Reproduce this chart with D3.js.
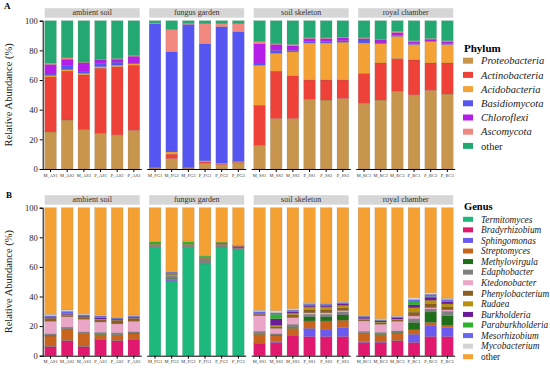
<!DOCTYPE html>
<html>
<head>
<meta charset="utf-8">
<script src="https://cdn.jsdelivr.net/npm/d3@7"></script>
<style>
  body { margin: 0; background: #fff; }
  svg text { font-family: "Liberation Serif", "DejaVu Serif", serif; }
</style>
</head>
<body>
<svg id="chart" width="550" height="371"></svg>
<script>
// facets and samples
const habitats = ["ambient soil", "fungus garden", "soil skeleton", "royal chamber"];
const samples = [
  ["M_AS1", "M_AS2", "M_AS3", "P_AS1", "P_AS2", "P_AS3"],
  ["M_FG1", "M_FG2", "M_FG3", "P_FG1", "P_FG2", "P_FG3"],
  ["M_SS1", "M_SS2", "M_SS3", "P_SS1", "P_SS2", "P_SS3"],
  ["M_RC1", "M_RC2", "M_RC3", "P_RC1", "P_RC2", "P_RC3"]
];
const yTicks = [0, 20, 40, 60, 80, 100];

// panel A: phylum, % per sample (AS x6, FG x6, SS x6, RC x6)
const phyla = ["Proteobacteria", "Actinobacteria", "Acidobacteria", "Basidiomycota", "Chloroflexi", "Ascomycota", "other"];
const proteobacteria = [25, 33, 26.5, 24, 23, 26, 0.5, 7, 0.6, 4, 3, 4, 16, 34, 34, 47, 46.5, 47.5, 44.5, 46.5, 52.5, 50, 53, 50.5];
const actinobacteria = [37, 33, 37, 44, 46, 44, 0.3, 3, 0.2, 1, 0.5, 0.5, 27, 32, 29, 13, 13.5, 12.5, 20, 25, 22, 23.5, 18.5, 21];
const acidobacteria  = [1, 1, 1, 1, 1, 1, 0.2, 1.5, 0.2, 0.5, 0.5, 0.5, 27, 12, 16, 25, 25, 25.5, 20.5, 13, 15, 10.5, 14.5, 12.5];
const basidiomycota  = [1, 3, 1, 2, 2, 0.5, 97, 67.5, 96.5, 79, 92, 87.5, 1.5, 2, 1, 1, 1, 1, 2, 0.5, 0.5, 0.5, 0.3, 0.5];
const chloroflexi    = [6.5, 4, 6, 2.5, 2, 4.5, 0, 0, 0, 0, 0, 0, 13, 4, 3, 2, 2, 2, 1, 2, 2, 1.5, 1.2, 1.5];
const ascomycota     = [1, 1, 0.5, 0.5, 0.5, 0.5, 0.5, 15, 0.8, 13.5, 2, 5.5, 1.5, 0.5, 1, 0.5, 0.5, 0.5, 0.5, 0.5, 1, 0.5, 0.5, 0.5];
const otherPhylum    = [28.5, 25, 28, 26, 25.5, 23.5, 1.5, 6, 1.7, 2, 2, 2, 14, 15.5, 16, 11.5, 11.5, 11, 11.5, 12.5, 7, 13.5, 12, 13.5];
const phylumSeries = [proteobacteria, actinobacteria, acidobacteria, basidiomycota, chloroflexi, ascomycota, otherPhylum];
const phylumColors = ["#C8954D", "#EE4138", "#F4A236", "#5555F2", "#B41EE8", "#F08880", "#24A872"];

// panel B: genus
const genera = ["Termitomyces", "Bradyrhizobium", "Sphingomonas", "Streptomyces", "Methylovirgula", "Edaphobacter",
  "Ktedonobacter", "Phenylobacterium", "Rudaea", "Burkholderia", "Paraburkholderia", "Mesorhizobium", "Mycobacterium", "other"];
const termitomyces     = [0, 0, 0, 0, 0, 0, 73, 50.5, 73, 62, 73, 72.5, 0, 0, 0, 0, 0, 0, 0, 0, 0, 0, 0, 0];
const bradyrhizobium   = [6, 10, 6, 11, 10, 11, 0, 0.2, 0, 0, 0, 1.2, 8, 9, 13.5, 13, 13, 13, 9, 9, 10, 9, 13, 13];
const sphingomonas     = [0.3, 0.3, 0.3, 0.3, 0.3, 0.3, 0, 0.8, 0, 0, 0, 0.2, 0.5, 0.5, 0.5, 5.5, 4.5, 6, 0.5, 0.3, 0.3, 5.5, 7.5, 6];
const streptomyces     = [7, 7.5, 8.5, 3, 3.5, 3.5, 0, 0.3, 0, 0, 0, 0.3, 6, 4, 4.5, 5, 6, 5, 5.5, 5, 5, 3, 2, 1.5];
const methylovirgula   = [0.5, 0.3, 0.3, 0.5, 0.5, 0.5, 0.2, 0.5, 0.2, 0.3, 0.3, 0, 0.5, 0.5, 0.7, 3, 3, 3.5, 0.5, 0.5, 0.5, 5, 7, 6.5];
const edaphobacter     = [1, 1.2, 1, 1, 1.2, 1, 1.5, 2, 1.5, 3, 1.8, 0.3, 1.5, 1, 2, 1.5, 1.5, 2, 1, 1, 1, 2.5, 2, 3];
const ktedonobacter    = [8.5, 7, 8.5, 7, 6, 7, 0.2, 0.2, 0.2, 0.2, 0, 0, 10.5, 3.5, 4.5, 1, 1, 1, 7, 5.5, 6.5, 1.9, 1, 1];
const phenylobacterium = [1.5, 1, 1, 1.5, 2, 1.5, 0.2, 0.5, 0.2, 0.3, 1, 0, 0.5, 1, 2, 2, 2, 2, 1, 1, 1, 2.5, 2.5, 2];
const rudaea           = [0.5, 0.5, 0.4, 0.5, 0.5, 0.5, 0.3, 0.5, 0.3, 0.3, 0.5, 0, 0.5, 1, 1, 2, 2, 1.5, 0.5, 0.5, 0.5, 3, 2.5, 2];
const burkholderia     = [0.7, 0.5, 0.7, 0.7, 0.7, 0.7, 0, 0.2, 0, 0, 0, 0, 0.5, 4.5, 0.8, 1, 1, 1, 1, 0.8, 0.8, 2, 2, 1.5];
const paraburkholderia = [0.2, 0.2, 0.2, 0.3, 0.3, 0.3, 1.5, 0.3, 1.8, 1.2, 0.4, 0, 0.3, 3, 0.3, 0.5, 0.5, 0.5, 0.2, 0.2, 0.2, 2, 0.5, 0.5];
const mesorhizobium    = [0.8, 1.5, 0.8, 1, 0.5, 0.7, 0, 0.5, 0, 0, 0, 0, 1, 1, 1, 0.8, 0.5, 0.5, 0.5, 0.5, 0.5, 1.5, 1.5, 1];
const mycobacterium    = [1, 1, 0.8, 0.7, 0.5, 0.5, 0.3, 0.3, 0.3, 0.2, 0.3, 0, 1, 1.5, 1, 0.5, 0.5, 0.5, 0.5, 0.7, 0.5, 1.5, 1, 0.8];
const otherGenus       = [72, 69, 71.5, 72.5, 74, 72.5, 22.8, 43.2, 22.5, 32.5, 22.7, 25.5, 69.2, 69.5, 68.2, 64.2, 64.5, 63.5, 72.8, 75, 73.2, 60.6, 57.5, 61.2];
const genusSeries = [termitomyces, bradyrhizobium, sphingomonas, streptomyces, methylovirgula, edaphobacter, ktedonobacter,
  phenylobacterium, rudaea, burkholderia, paraburkholderia, mesorhizobium, mycobacterium, otherGenus];
const genusColors = ["#1DB87C", "#E0186E", "#6A5AF0", "#C8641E", "#1F6E1A", "#808080", "#EAA6C6",
  "#8B5E22", "#B8900E", "#6B1A9A", "#2DB42D", "#6666F0", "#D3D3D3", "#F5A033"];

const serif = "'Liberation Serif', 'DejaVu Serif', serif";
const svg = d3.select("#chart");
const facetX0 = 44.7, facetW = 95, facetStep = 104.5;

function drawPanel(cfg) {
  const names = cfg.names;
  const allSamples = samples.flat();
  const rows = allSamples.map((s, i) => {
    const r = { sample: s };
    names.forEach((n, k) => r[n] = cfg.series[k][i]);
    return r;
  });
  const stacked = d3.stack().keys(names)(rows);
  const color = d3.scaleOrdinal().domain(names).range(cfg.colors);

  const y = d3.scaleLinear().domain([0, 100]).range([cfg.bottom, cfg.top]);

  // y axis
  const yAxis = svg.append("g")
    .attr("transform", `translate(${facetX0 - 2},0)`)
    .attr("font-family", serif)
    .call(d3.axisLeft(y).tickValues(yTicks).tickSize(3).tickPadding(2));
  yAxis.attr("font-family", serif);
  yAxis.select(".domain").attr("stroke", "#000");
  yAxis.selectAll("text").style("font-size", "8.5px").attr("fill", "#222");

  svg.append("text")
    .attr("transform", `translate(12,${(cfg.top + cfg.bottom) / 2}) rotate(-90)`)
    .attr("text-anchor", "middle")
    .style("font-size", "10.5px")
    .attr("fill", "#222")
    .text("Relative Abundance (%)");

  svg.append("text")
    .attr("x", cfg.labelX).attr("y", cfg.labelY)
    .style("font-size", "9px").style("font-weight", "bold")
    .text(cfg.label);

  habitats.forEach((h, fi) => {
    const x0 = facetX0 + fi * facetStep;
    const x = d3.scaleBand().domain(samples[fi]).range([x0, x0 + facetW]).paddingInner(0.3).paddingOuter(0);

    // strip
    svg.append("rect")
      .attr("x", x0).attr("y", cfg.top - 12.5)
      .attr("width", facetW).attr("height", 9.5)
      .attr("fill", "#D6D6D6");
    svg.append("text")
      .attr("x", x0 + facetW / 2).attr("y", cfg.top - 5.3)
      .attr("text-anchor", "middle")
      .style("font-size", "8px").attr("fill", "#333")
      .text(h);

    const g = svg.append("g");
    stacked.forEach(layer => {
      g.selectAll(null)
        .data(layer.filter(d => samples[fi].includes(d.data.sample) && d[1] - d[0] > 0))
        .enter()
        .append("rect")
        .attr("x", d => x(d.data.sample))
        .attr("y", d => y(d[1]))
        .attr("width", x.bandwidth())
        .attr("height", d => y(d[0]) - y(d[1]))
        .attr("fill", color(layer.key))
        .attr("stroke", "rgba(90,90,90,0.35)")
        .attr("stroke-width", 0.4);
    });

    // x axis for the facet
    const xAxis = svg.append("g")
      .attr("transform", `translate(0,${cfg.bottom})`)
      .call(d3.axisBottom(x).tickSize(3).tickPadding(1.5).tickSizeOuter(0));
    xAxis.attr("font-family", serif);
    xAxis.select(".domain").attr("d", `M${x0 - 2},0.5H${x0 + facetW + 2}`).attr("stroke", "#000");
    xAxis.selectAll("text").style("font-size", "4.5px").attr("fill", "#333");
  });

  // legend
  const lg = svg.append("g").attr("transform", `translate(463,${cfg.legendTop})`);
  lg.append("text")
    .attr("x", 1).attr("y", -9)
    .style("font-size", cfg.legendTitleSize).style("font-weight", "bold")
    .text(cfg.title);
  names.forEach((n, k) => {
    const cy = k * cfg.legendStep;
    lg.append("rect")
      .attr("x", 0).attr("y", cy - cfg.swatchH / 2)
      .attr("width", 10).attr("height", cfg.swatchH)
      .attr("fill", cfg.colors[k]);
    lg.append("text")
      .attr("x", 18).attr("y", cy)
      .attr("dy", "0.35em")
      .style("font-size", cfg.legendFont)
      .style("font-style", n === "other" ? "normal" : "italic")
      .attr("fill", "#222")
      .text(n);
  });
}

drawPanel({
  names: phyla, series: phylumSeries, colors: phylumColors,
  top: 20.7, bottom: 169, label: "A", labelX: 4, labelY: 9,
  title: "Phylum", legendTop: 60.7, legendStep: 14.2, swatchH: 6,
  legendFont: "10.5px", legendTitleSize: "11px"
});

drawPanel({
  names: genera, series: genusSeries, colors: genusColors,
  top: 207.7, bottom: 355.7, label: "B", labelX: 6, labelY: 198,
  title: "Genus", legendTop: 219.3, legendStep: 10.57, swatchH: 5,
  legendFont: "9.3px", legendTitleSize: "10.5px"
});
</script>
</body>
</html>
